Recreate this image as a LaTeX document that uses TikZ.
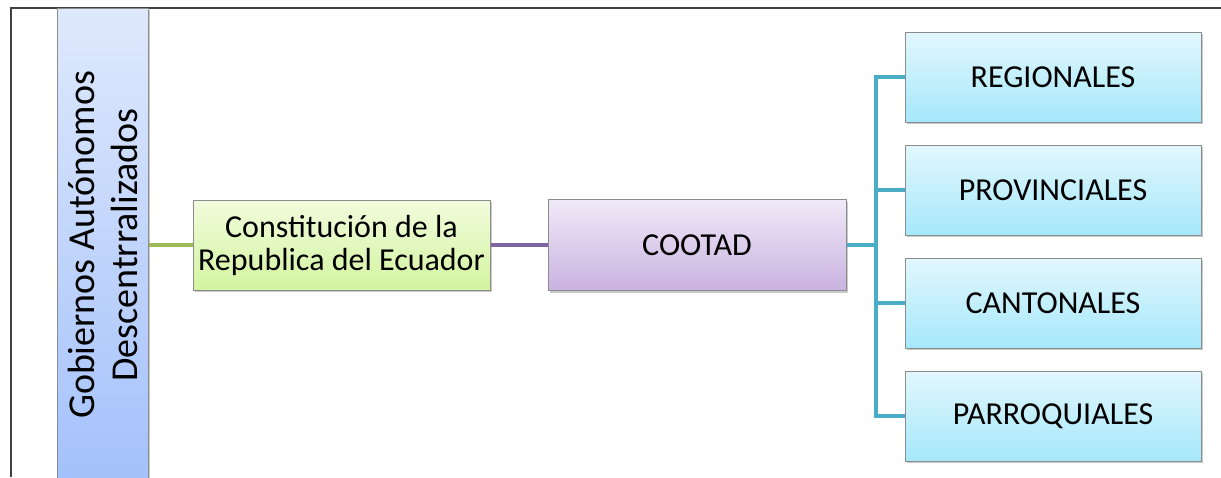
\documentclass[tikz,border=0pt]{standalone}
\usepackage{fontspec}
\setmainfont{Carlito}
\usepackage{xcolor}
\usepackage{tikz}
\usetikzlibrary{shadows}
\definecolor{gadtop}{HTML}{DFE9FC}
\definecolor{gadbot}{HTML}{A3C1FB}
\definecolor{contop}{HTML}{F1FCDC}
\definecolor{conbot}{HTML}{D3F4A0}
\definecolor{cootop}{HTML}{F0EAF8}
\definecolor{coobot}{HTML}{C9B2E0}
\definecolor{levtop}{HTML}{E2F7FD}
\definecolor{levbot}{HTML}{A5E8FB}
\definecolor{greenline}{HTML}{9BBB59}
\definecolor{purpleline}{HTML}{8064A2}
\definecolor{tealline}{HTML}{4BACC6}

\begin{document}
\begin{tikzpicture}[x=0.5pt, y=-0.5pt,
    box/.style={draw=black!45, line width=0.5pt, inner sep=2pt, align=center,
        font=\fontsize{16}{16.5}\selectfont,
        drop shadow={shadow xshift=1.2pt, shadow yshift=-1.2pt, opacity=0.35, fill=black!60}},
    link/.style={line width=2.2pt}]
		\useasboundingbox (0,0) rectangle (1221,477);
		% draw the frame
		\draw[black!75, line width=0.6pt] (11,477) -- (11,8) -- (1221,8);
		% draw the side bar
		\node[box, rotate=90, minimum width=237pt, minimum height=45.5pt,
			top color=gadtop, bottom color=gadbot,
			font=\fontsize{19}{21.5}\selectfont] (gad) at (102.5,245)
			{Gobiernos Autónomos\\Descentrralizados};
		% draw the main boxes
		\node[box, minimum width=148.5pt, minimum height=45pt,
			top color=contop, bottom color=conbot] (const) at (341.5,245)
			{Constitución de la\\Republica del Ecuador};
		\node[box, minimum width=149pt, minimum height=45.5pt,
			top color=cootop, bottom color=coobot] (cootad) at (697,245) {COOTAD};
		% draw the levels
		\foreach \n/\y/\t in {reg/77/REGIONALES, prov/190/PROVINCIALES,
			cant/303/CANTONALES, par/416/PARROQUIALES}
			\node[box, minimum width=148pt, minimum height=45pt,
				top color=levtop, bottom color=levbot] (\n) at (1053,\y) {\t};
		% add the links
		\coordinate (fork) at (876,245);
		\draw[link, greenline] (gad.south) -- (const.west);
		\draw[link, purpleline] (const.east) -- (cootad.west);
		\draw[link, tealline] (cootad.east) -- (fork);
		\foreach \n in {reg,prov,cant,par}
			\draw[link, tealline] (\n.west) -| (fork);
	\end{tikzpicture}
\end{document}
